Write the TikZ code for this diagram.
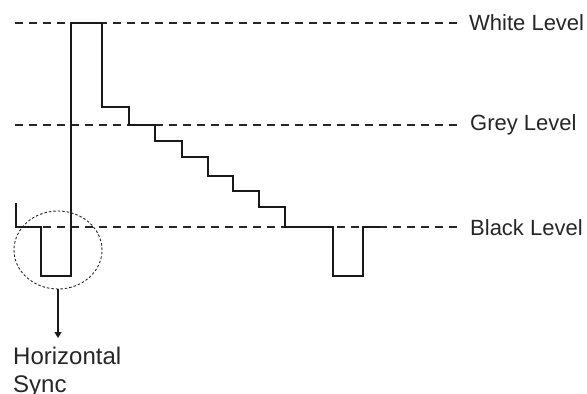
\documentclass[tikz,border=0pt]{standalone}
\usepackage{fontspec}
\setmainfont{Liberation Sans}
\usetikzlibrary{shapes.geometric,arrows.meta}
\begin{document}
\begin{tikzpicture}[x=1pt,y=-1pt,
  levelline/.style={line width=1.6pt, dash pattern=on 8pt off 6pt, black!85},
  signal/.style={line width=1.5pt, black!90, line join=miter},
  lbl/.style={anchor=base west, inner sep=0pt, font=\fontsize{22}{28}\selectfont, text=black!85},
  ring/.style={ellipse, draw, line width=0.9pt, dash pattern=on 2.5pt off 2pt, black!85,
    minimum width=88pt, minimum height=78pt, inner sep=0pt},
]
\useasboundingbox (0,0) rectangle (587,394);

% reference levels
\node[lbl] (white) at (469,30) {White Level};
\node[lbl] (grey)  at (470,130) {Grey Level};
\node[lbl] (black) at (470,235) {Black Level};
\draw[levelline] (15,23) -- (458,23);
\draw[levelline] (15,125) -- (458,125);
\draw[levelline] (15,227) -- (458,227);

% video line: sync pulse, white peak, grey staircase, second sync pulse
\draw[signal] (16,203) -- (16,227) -- (41,227) -- (41,276) -- (71,276) -- (71,23)
  -- (102,23) -- (102,107)
  -- (129,107) -- (129,125)
  -- (155,125) -- (155,141)
  -- (182,141) -- (182,157)
  -- (208,157) -- (208,176)
  -- (233,176) -- (233,191)
  -- (259,191) -- (259,207)
  -- (285,207) -- (285,227)
  -- (333,227) -- (333,276) -- (363,276) -- (363,227) -- (380,227);

% horizontal sync marker
\node[ring] (syncring) at (58,250) {};
\coordinate (arrowend) at (58,338);
\draw[line width=1.2pt, black!90, -{Triangle[length=6pt,width=7pt]}] (syncring.south) -- (arrowend);
\node[lbl, anchor=north west, align=left, font=\fontsize{24}{28}\selectfont] (synclabel) at (13,347) {Horizontal\\Sync};
\end{tikzpicture}
\end{document}
